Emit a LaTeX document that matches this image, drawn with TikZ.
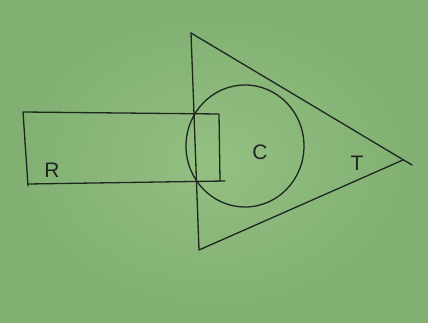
\documentclass[tikz,border=0pt]{standalone}
\usepackage{fontspec}
\setmainfont{Liberation Sans}
\definecolor{paper}{RGB}{148,192,130}
\definecolor{paperdark}{RGB}{128,175,113}
\definecolor{ink}{RGB}{30,38,30}
\begin{document}
\begin{tikzpicture}[x=1pt,y=-1pt,
  pen/.style={draw=ink,line width=1.3pt,line cap=round,line join=round},
  lbl/.style={text=ink,font=\fontsize{21}{21}\selectfont,inner sep=0pt}]
\useasboundingbox (0,0) rectangle (428,323);
\shade[inner color=paper,outer color=paperdark] (0,0) rectangle (428,323);
% triangle T
\coordinate (t1) at (191,33);
\coordinate (t2) at (199,250);
\coordinate (t3) at (403,160);
\coordinate (t3x) at (412,165);
\draw[pen] (t1) -- (t2) -- (t3);
\draw[pen] (t1) -- (t3x);
% circle C
\coordinate (c0) at (245,146);
\draw[pen] (c0) ellipse [x radius=59, y radius=61];
% rectangle R
\coordinate (r1) at (23,112);
\coordinate (r2) at (219,114);
\coordinate (r3) at (220,181);
\coordinate (r3x) at (225,181);
\coordinate (r4) at (28,186);
\coordinate (r4b) at (28,184);
\draw[pen] (r4) -- (r1) -- (r2) -- (r3);
\draw[pen] (r4b) -- (r3x);
% labels
\node[lbl] (R) at (52,170) {R};
\node[lbl] (C) at (260,152) {C};
\node[lbl] (T) at (357,163) {T};
\end{tikzpicture}
\end{document}
